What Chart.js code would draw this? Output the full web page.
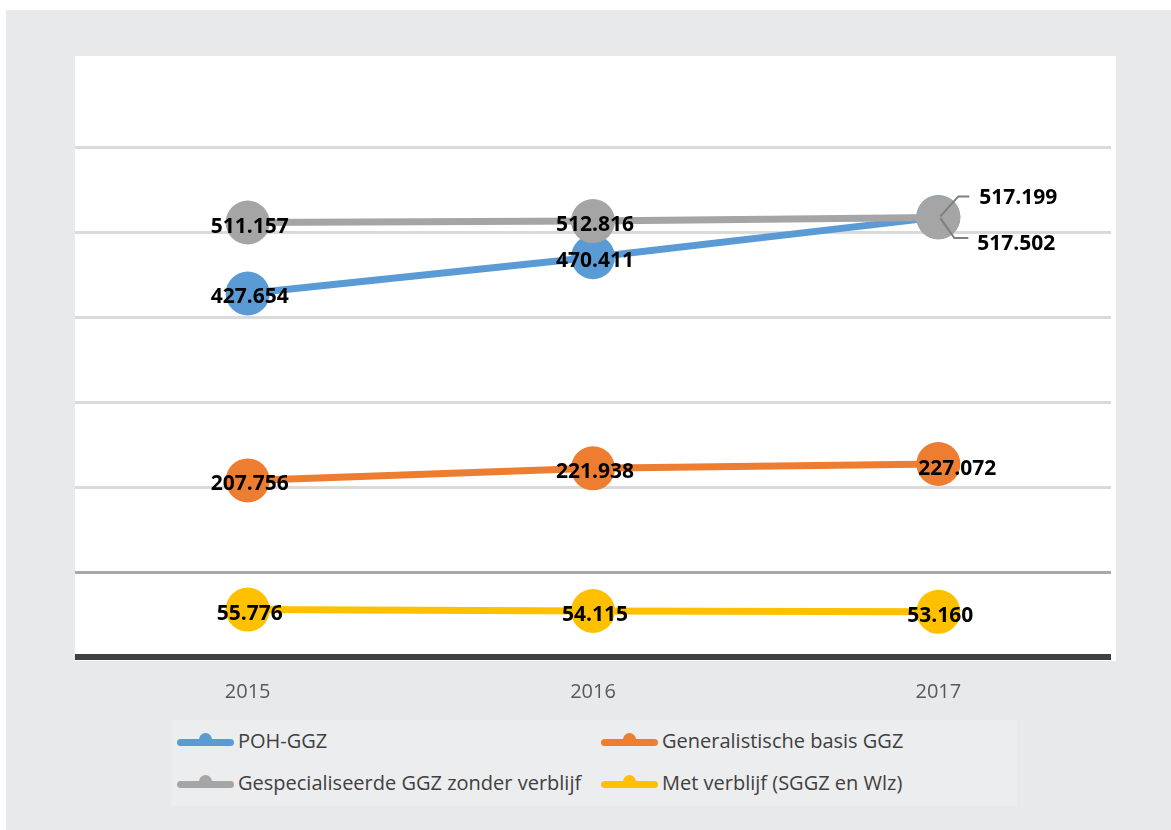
<!DOCTYPE html>
<html>
<head>
<meta charset="utf-8">
<script src="https://cdn.jsdelivr.net/npm/chart.js@4.4.1/dist/chart.umd.min.js"></script>
<style>
  body { margin:0; background:#fff; width:1171px; height:830px; position:relative; overflow:hidden; font-family:"Open Sans", sans-serif; }
  #frame { position:absolute; left:6px; top:10px; width:1165px; height:820px; background:#e8e9eb; }
  #plotbg { position:absolute; left:75px; top:56px; width:1041px; height:605px; background:#fff; }
  #wrap { position:absolute; left:53px; top:40px; width:1080px; height:719px; }
  #legend { position:absolute; left:171px; top:720px; width:846px; height:86px; background:#ecedee; }
  .item { position:absolute; height:24px; }
  .item .sample { position:absolute; left:0; top:8px; width:57px; height:7px; border-radius:4px; }
  .item .bump { position:absolute; left:22px; top:2px; width:13px; height:7px; border-radius:7px 7px 0 0; }
  .item span { position:absolute; left:61px; top:-4px; font-size:20px; color:#404040; white-space:nowrap; }
</style>
</head>
<body>
<div id="frame"></div>
<div id="plotbg"></div>
<div id="wrap"><canvas id="chart" width="1080" height="719"></canvas></div>
<div id="legend"></div>
<script>
// ---- data ----
const years = ['2015', '2016', '2017'];
const seriesNames = ['POH-GGZ', 'Generalistische basis GGZ', 'Gespecialiseerde GGZ zonder verblijf', 'Met verblijf (SGGZ en Wlz)'];
const pohGgz = [427654, 470411, 517502];
const generalistisch = [207756, 221938, 227072];
const gespecialiseerd = [511157, 512816, 517199];
const metVerblijf = [55776, 54115, 53160];
const yMax = 700000;
const yStep = 100000;

const colors = ['#5b9bd5', '#ed7d31', '#a5a5a5', '#ffc000'];
const seriesValues = [pohGgz, generalistisch, gespecialiseerd, metVerblijf];
// Excel draws later series on top
const drawOrder = [4, 3, 2, 1];

// label placement tweaks (dataset-index)
const labelTweaks = {
  '0-2': { dx: 39, dy: 27, align: 'left', leader: [[2, 1], [16, 21], [30, 21]] },
  '2-2': { dx: 41, dy: -19, align: 'left', leader: [[2, -1], [20, -21], [31, -21]] },
  '1-2': { dx: 19, dy: 5 }
};

function fmt(v){
  return String(v).replace(/\B(?=(\d{3})+(?!\d))/g, '.');
}

// ---- data labels ----
const dataLabels = {
  id: 'dataLabels',
  afterDatasetsDraw(chart){
    const ctx = chart.ctx;
    ctx.save();
    chart.data.datasets.forEach((ds, di) => {
      const meta = chart.getDatasetMeta(di);
      meta.data.forEach((pt, i) => {
        const t = labelTweaks[di + '-' + i] || {};
        if (t.leader){
          ctx.strokeStyle = '#7f7f7f';
          ctx.lineWidth = 2;
          ctx.beginPath();
          t.leader.forEach((p, k) => {
            if (k === 0) ctx.moveTo(pt.x + p[0], pt.y + p[1]);
            else ctx.lineTo(pt.x + p[0], pt.y + p[1]);
          });
          ctx.stroke();
        }
        ctx.font = 'bold 21px "Open Sans"';
        ctx.fillStyle = '#000';
        ctx.textAlign = t.align || 'center';
        ctx.textBaseline = 'middle';
        ctx.fillText(fmt(ds.data[i]), pt.x + (t.dx || 2), pt.y + (t.dy === undefined ? 4 : t.dy));
      });
    });
    ctx.restore();
  }
};

new Chart(document.getElementById('chart').getContext('2d'), {
  type: 'line',
  data: {
    labels: years,
    datasets: seriesNames.map((name, i) => ({
      label: name,
      data: seriesValues[i],
      borderColor: colors[i],
      backgroundColor: colors[i],
      pointBackgroundColor: colors[i],
      pointBorderWidth: 0,
      pointRadius: 22,
      pointHoverRadius: 22,
      borderWidth: 7,
      tension: 0,
      order: drawOrder[i],
      clip: false
    }))
  },
  options: {
    responsive: false,
    animation: false,
    layout: { padding: 22 },
    plugins: { legend: { display: false }, tooltip: { enabled: false } },
    scales: {
      x: {
        offset: true,
        grid: { display: false },
        border: { display: false },
        ticks: { color: '#595959', font: { family: 'Open Sans', size: 20 }, padding: 15 },
        afterFit(s){ s.height = 80; }
      },
      y: {
        min: 0,
        max: yMax,
        ticks: { display: false, stepSize: yStep },
        border: { display: false },
        grid: {
          drawTicks: false,
          color: c => c.tick.value === 0 ? '#404040' : c.tick.value === yMax ? 'rgba(0,0,0,0)' : c.tick.value === yStep ? '#a8a8a8' : '#dadada',
          lineWidth: c => c.tick.value === 0 ? 6 : 3
        },
        afterFit(s){ s.width = 0; }
      }
    }
  },
  plugins: [dataLabels]
});

// ---- legend (two columns) ----
const legend = document.getElementById('legend');
const legendPos = [[6, 11], [430, 11], [6, 53], [430, 53]];
seriesNames.forEach((name, i) => {
  const it = document.createElement('div');
  it.className = 'item';
  it.style.left = legendPos[i][0] + 'px';
  it.style.top = legendPos[i][1] + 'px';
  it.innerHTML = `<div class="sample" style="background:${colors[i]}"></div><div class="bump" style="background:${colors[i]}"></div><span>${name}</span>`;
  legend.appendChild(it);
});
</script>
</body>
</html>
